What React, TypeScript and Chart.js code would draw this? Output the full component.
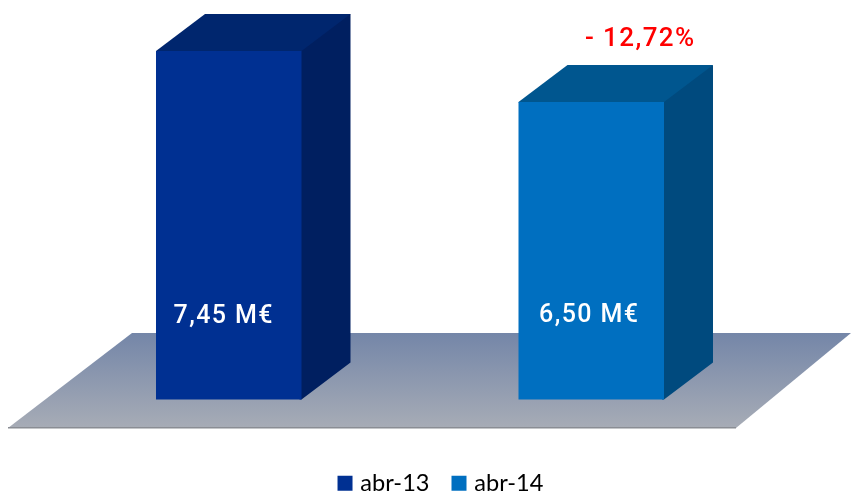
import React, { useEffect, useRef } from "react";
import { Chart, registerables } from "chart.js";

Chart.register(...registerables);

const categories = ["abr"];
const seriesNames = ["abr-13", "abr-14"];
const seriesValues = [[7.45], [6.5]];
const valueLabels = ["7,45 M€", "6,50 M€"];
const changeLabel = "- 12,72%";

const frontColors = ["#003092", "#006fc0"];
const topColors = ["#00266e", "#00568f"];
const sideColors = ["#001f60", "#004a7e"];
const legendColors = ["#003092", "#006fc0"];

const depthX = 49;
const depthY = 37;

const poly = (ctx: CanvasRenderingContext2D, pts: number[][], fill: string | CanvasGradient) => {
  ctx.beginPath();
  pts.forEach(([x, y], i) => (i ? ctx.lineTo(x, y) : ctx.moveTo(x, y)));
  ctx.closePath();
  ctx.fillStyle = fill;
  ctx.fill();
};

const scenePlugin = {
  id: "scene",
  afterLayout(chart: any) {
    const lg = chart.legend;
    if (lg) {
      lg.left += 32.5;
      lg.right += 32.5;
      lg.top += 46;
      lg.bottom += 46;
    }
  },
  beforeDatasetsDraw(chart: any) {
    const ctx: CanvasRenderingContext2D = chart.ctx;
    const g = ctx.createLinearGradient(0, 333, 0, 428);
    g.addColorStop(0, "#7486a8");
    g.addColorStop(1, "#a7acb6");
    poly(ctx, [[132, 333], [851, 333], [736, 428], [8, 428]], g);
    ctx.fillStyle = "#8a8d94";
    ctx.fillRect(8, 427, 728, 1.5);
    seriesNames.forEach((_, i) => {
      const bar = chart.getDatasetMeta(i).data[0] as any;
      const l = bar.x - bar.width / 2;
      const r = bar.x + bar.width / 2;
      const t = bar.y;
      const b = chart.chartArea.bottom;
      poly(ctx, [[l, t], [l + 1, t + 2], [r, t + 2], [r + depthX - 1, t - depthY + 2], [r + depthX, t - depthY], [l + depthX, t - depthY]], topColors[i]);
      poly(ctx, [[r - 2, t], [r, t], [r + depthX, t - depthY], [r + depthX, b - depthY], [r, b], [r - 2, b]], sideColors[i]);
    });
  },
  afterDatasetsDraw(chart: any) {
    const ctx: CanvasRenderingContext2D = chart.ctx;
    seriesNames.forEach((_, i) => {
      const bar = chart.getDatasetMeta(i).data[0] as any;
      ctx.save();
      ctx.fillStyle = "#ffffff";
      ctx.font = "500 25px Roboto";
      (ctx as any).letterSpacing = "1.4px";
      ctx.textAlign = "center";
      ctx.textBaseline = "alphabetic";
      ctx.fillText(valueLabels[i], i ? bar.x - 2 : bar.x - 5, i ? 322 : 323);
      if (i === 1) {
        ctx.fillStyle = "#ff0000";
        ctx.font = "500 26px Roboto";
        (ctx as any).letterSpacing = "1.4px";
        ctx.fillText(changeLabel, bar.x + 49, 46);
      }
      ctx.restore();
    });
  },
};

export default function App() {
  const ref = useRef<HTMLCanvasElement>(null);
  useEffect(() => {
    document.body.style.margin = "0";
    const chart = new Chart(ref.current!, {
      type: "bar",
      data: {
        labels: categories,
        datasets: seriesNames.map((name, i) => ({
          label: name,
          data: seriesValues[i],
          backgroundColor: frontColors[i],
          borderWidth: 0,
          categoryPercentage: 725 / 820,
          barPercentage: 0.4014,
        })),
      },
      options: {
        responsive: false,
        animation: false,
        devicePixelRatio: 1,
        layout: { padding: { left: 0, right: 31, top: 0, bottom: 37 } },
        scales: {
          x: { display: false },
          y: { display: false, min: 0.967, max: 8.4 },
        },
        plugins: {
          tooltip: { enabled: false },
          legend: {
            display: true,
            position: "bottom",
            labels: {
              boxWidth: 7,
              boxHeight: 7,
              padding: 26,
              color: "#222222",
              font: { family: "Lato", size: 23.6 },
              generateLabels: () =>
                seriesNames.map((name, i) => ({
                  text: name,
                  fillStyle: legendColors[i],
                  strokeStyle: legendColors[i],
                  lineWidth: 8,
                  datasetIndex: i,
                  hidden: false,
                })),
            },
          },
        },
      } as any,
      plugins: [scenePlugin],
    });
    return () => chart.destroy();
  }, []);
  return <canvas ref={ref} width={851} height={496} style={{ display: "block" }} />;
}
